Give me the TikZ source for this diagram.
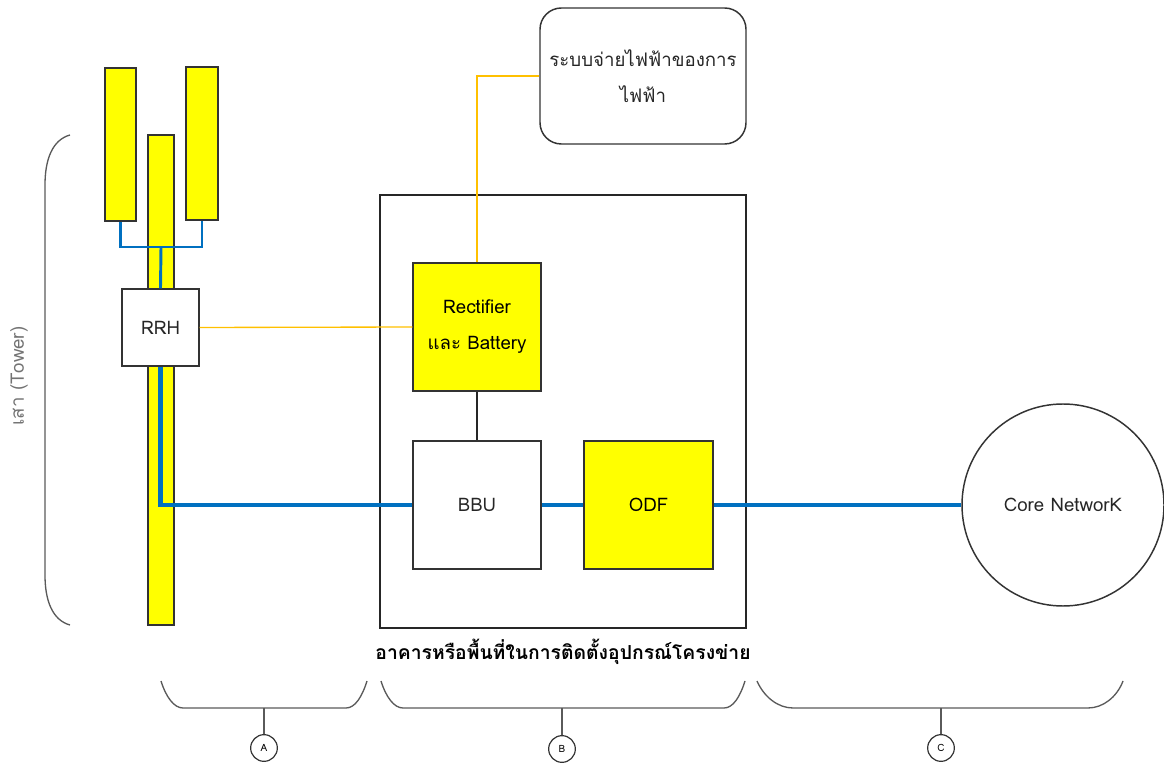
\documentclass[tikz,border=0pt]{standalone}
\usepackage{fontspec}
\setmainfont[Script=Thai]{Loma}
\usepackage{xcolor}
\definecolor{antyellow}{RGB}{255,255,0}
\definecolor{fibreblue}{RGB}{0,112,192}
\definecolor{poweramber}{RGB}{255,192,0}
\definecolor{bracegrey}{RGB}{90,90,90}

\tikzset{
  yelbox/.style={draw=black!80, fill=antyellow, line width=1.1pt, inner sep=0pt},
  whitebox/.style={draw=black!80, fill=white, line width=1.1pt, inner sep=0pt, text=black!85},
  fibre/.style={draw=fibreblue, line width=3.6pt},
  fibrethin/.style={draw=fibreblue, line width=2.2pt},
  powerline/.style={draw=poweramber, line width=1pt},
  brace/.style={draw=bracegrey, line width=1pt},
  tag/.style={circle, draw=black!80, line width=0.9pt, fill=white, minimum size=20pt, inner sep=0pt, font=\fontsize{7.5}{8}\selectfont},
  lbl/.style={font=\fontsize{14}{27}\selectfont, align=center}
}

\begin{document}
\begin{tikzpicture}[x=0.75pt,y=0.75pt,yscale=-1,xscale=1]
\useasboundingbox (0,0) rectangle (1164,766);

% tower and antennas
\node[yelbox, minimum width=19.5pt, minimum height=367.5pt] (pole) at (161,380) {};
\node[yelbox, minimum width=23.25pt, minimum height=114.75pt] (lant) at (120.5,144.5) {};
\node[yelbox, minimum width=24pt, minimum height=114.75pt] (rant) at (202,143.5) {};
\node[whitebox, lbl, minimum width=57.75pt, minimum height=57.75pt] (rrh) at (160.5,327.5) {RRH};
\coordinate (hub) at (161,247);

% building
\node[draw=black!85, line width=1.1pt, minimum width=274.5pt, minimum height=324.75pt] (bldg) at (563,411.5) {};
\node[yelbox, lbl, minimum width=96pt, minimum height=96pt] (rect) at (477,327) {Rectifier\\และ Battery};
\node[whitebox, lbl, minimum width=96pt, minimum height=96pt] (bbu) at (477,505) {BBU};
\node[yelbox, lbl, minimum width=96.75pt, minimum height=96pt] (odf) at (648.5,505) {ODF};
\node[lbl, font=\fontsize{14.5}{17}\selectfont\bfseries] (bldglbl) at (563,652) {อาคารหรือพื้นที่ในการติดตั้งอุปกรณ์โครงข่าย};

% utility and core
\node[whitebox, lbl, rounded corners=16pt, minimum width=154.5pt, minimum height=102pt] (grid) at (643,76) {ระบบจ่ายไฟฟ้าของการ\\ไฟฟ้า};
\node[whitebox, lbl, circle, minimum size=151.5pt] (core) at (1063,505) {Core NetworK};

% connections
\draw[fibrethin] (lant.south) |- (hub) -| (rant.south);
\draw[fibrethin] (hub) -- (rrh.north);
\draw[fibre] (rrh.south) |- (bbu.west);
\draw[fibre] (bbu.east) -- (odf.west);
\draw[fibre] (odf.east) -- (core.west);
\draw[powerline] (rrh.east) -- (rect.west);
\draw[powerline] (grid.west) -| (rect.north);
\draw[black!85, line width=1pt] (rect.south) -- (bbu.north);

% tower brace
\draw[brace] (70,135) .. controls (52,140) and (45,160) .. (45,185) -- (45,575) .. controls (45,600) and (52,620) .. (70,625);
\node[lbl, rotate=90, text=black!55] (towerlbl) at (19,376) {เสา (Tower)};

% bottom braces
\draw[brace] (161,681) .. controls (166,697) and (174,708) .. (183,708) -- (346,708) .. controls (355,708) and (362,697) .. (367,681);
\draw[brace] (381,681) .. controls (386,697) and (394,708) .. (403,708) -- (724,708) .. controls (733,708) and (740,697) .. (745,681);
\draw[brace] (757,681) .. controls (764,697) and (778,708) .. (793,708) -- (1088,708) .. controls (1103,708) and (1117,697) .. (1123,681);
\coordinate (braceA) at (264,708);
\coordinate (braceB) at (562,708);
\coordinate (braceC) at (941,708);
\node[tag] (tagA) at (264,748) {A};
\node[tag] (tagB) at (562,749) {B};
\node[tag] (tagC) at (941,748) {C};
\draw[brace] (braceA) -- (tagA);
\draw[brace] (braceB) -- (tagB);
\draw[brace] (braceC) -- (tagC);

\end{tikzpicture}
\end{document}
